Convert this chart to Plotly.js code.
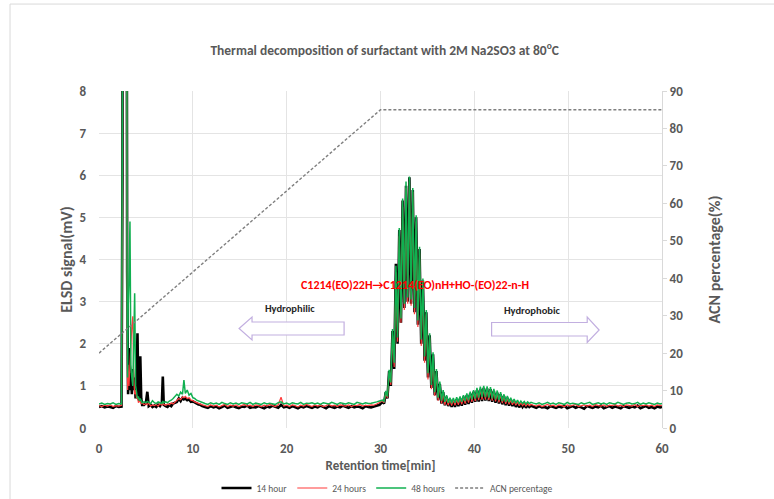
<!DOCTYPE html>
<html>
<head>
<meta charset="utf-8">
<script src="https://cdn.plot.ly/plotly-3.0.1.min.js"></script>
<style>
  html, body { margin: 0; padding: 0; background: #ffffff; }
  #chart { width: 774px; height: 499px; }
</style>
</head>
<body>
<div id="chart"></div>
<script>
// Retention time axis shared by the three ELSD traces (min)
const time = [
  0, 0.3, 0.6, 0.9, 1.2, 1.5, 1.8, 2.1, 2.4,
  2.5, 2.55, 2.7, 2.85, 2.95, 3.0, 3.05, 3.1, 3.2, 3.3,
  3.4, 3.5, 3.6, 3.7, 3.8, 3.9, 4.0, 4.1, 4.2, 4.3,
  4.4, 4.5, 4.6, 4.8, 5.0, 5.15, 5.3, 5.5, 5.7, 5.9,
  6.1, 6.3, 6.5, 6.7, 6.8, 6.9, 7.1, 7.3, 7.5, 7.7,
  7.9, 8.1, 8.3, 8.5, 8.7, 8.9, 9.05, 9.2, 9.4, 9.6,
  9.8, 10.0, 10.2, 10.4, 10.6, 10.8, 11.0,
  11.3, 11.6, 11.9, 12.2, 12.5, 12.8, 13.1, 13.4, 13.7, 14.0,
  14.3, 14.6, 14.9, 15.2, 15.5, 15.8, 16.1, 16.4, 16.7, 17.0,
  17.3, 17.6, 17.9, 18.2, 18.5, 18.8, 19.1, 19.4, 19.7, 20.0,
  20.3, 20.6, 20.9, 21.2, 21.5, 21.8, 22.1, 22.4, 22.7, 23.0,
  23.3, 23.6, 23.9, 24.2, 24.5, 24.8, 25.1, 25.4, 25.7, 26.0,
  26.3, 26.6, 26.9, 27.2, 27.5, 27.8, 28.1, 28.4, 28.7, 29.0,
  29.3, 29.6, 29.9,
  30.2, 30.38, 30.56, 30.74, 30.92, 31.1, 31.28, 31.46, 31.64, 31.82,
  32.0, 32.18, 32.36, 32.54, 32.72, 32.9, 33.08, 33.26, 33.44, 33.62,
  33.8, 33.98, 34.16, 34.34, 34.52, 34.7, 34.88, 35.06, 35.24, 35.42,
  35.6, 35.78, 35.96, 36.14, 36.32, 36.5, 36.68, 36.86, 37.04, 37.22,
  37.4, 37.58, 37.76, 37.94, 38.12, 38.3, 38.48, 38.66, 38.84, 39.02,
  39.2, 39.38, 39.56, 39.74, 39.92, 40.1, 40.28, 40.46, 40.64, 40.82,
  41.0, 41.18, 41.36, 41.54, 41.72, 41.9, 42.08, 42.26, 42.44, 42.62,
  42.8, 42.98, 43.16, 43.34, 43.52, 43.7, 43.88, 44.06, 44.24, 44.42,
  44.6, 44.78, 44.96, 45.14, 45.32, 45.5, 45.68, 45.86, 46.04,
  46.3, 46.6, 46.9, 47.2, 47.5, 47.8, 48.1, 48.4, 48.7, 49.0,
  49.3, 49.6, 49.9, 50.2, 50.5, 50.8, 51.1, 51.4, 51.7, 52.0,
  52.3, 52.6, 52.9, 53.2, 53.5, 53.8, 54.1, 54.4, 54.7, 55.0,
  55.3, 55.6, 55.9, 56.2, 56.5, 56.8, 57.1, 57.4, 57.7, 58.0,
  58.3, 58.6, 58.9, 59.2, 59.5, 59.8, 60.0
];

// ELSD signal (mV) after 14 hours
const h14 = [
  0.50, 0.52, 0.49, 0.51, 0.50, 0.48, 0.52, 0.50, 0.51,
  6.0, 30, 30, 30, 12, 3.7, 1.0, 0.8, 1.9, 0.9,
  1.3, 0.8, 1.4, 0.9, 1.2, 0.7, 1.0, 2.25, 0.7, 0.65,
  1.7, 0.7, 0.55, 0.55, 0.6, 0.86, 0.52, 0.55, 0.5, 0.53,
  0.5, 0.55, 0.52, 0.6, 1.22, 0.55, 0.52, 0.5, 0.55, 0.52,
  0.58, 0.6, 0.62, 0.7, 0.64, 0.72, 0.68, 0.7, 0.66, 0.68,
  0.62, 0.63, 0.6, 0.58, 0.56, 0.55, 0.52,
  0.50, 0.48, 0.52, 0.49, 0.51, 0.47, 0.50, 0.53, 0.48, 0.50,
  0.52, 0.49, 0.47, 0.51, 0.50, 0.53, 0.48, 0.50, 0.49, 0.52,
  0.50, 0.47, 0.51, 0.49, 0.53, 0.50, 0.48, 0.55, 0.49, 0.51,
  0.48, 0.52, 0.50, 0.47, 0.51, 0.49, 0.52, 0.50, 0.48, 0.51,
  0.49, 0.53, 0.50, 0.47, 0.52, 0.50, 0.48, 0.51, 0.49, 0.53,
  0.50, 0.48, 0.52, 0.49, 0.51, 0.50, 0.47, 0.52, 0.50, 0.49,
  0.51, 0.53, 0.55,
  0.62, 0.58, 0.85, 0.70, 1.35, 1.00, 2.30, 1.40, 3.90, 2.00,
  4.70, 2.50, 5.40, 2.85, 5.75, 3.00, 5.95, 2.95, 5.65, 2.75,
  5.00, 2.45, 4.25, 2.00, 3.50, 1.60, 2.75, 1.20, 2.20, 0.95,
  1.75, 0.78, 1.35, 0.66, 1.05, 0.58, 0.85, 0.54, 0.74, 0.52,
  0.68, 0.50, 0.66, 0.50, 0.68, 0.52, 0.70, 0.53, 0.74, 0.55,
  0.78, 0.57, 0.82, 0.60, 0.86, 0.62, 0.90, 0.63, 0.93, 0.64,
  0.95, 0.65, 0.94, 0.64, 0.92, 0.62, 0.88, 0.60, 0.84, 0.58,
  0.80, 0.56, 0.76, 0.54, 0.72, 0.53, 0.68, 0.52, 0.64, 0.50,
  0.61, 0.49, 0.58, 0.50, 0.56, 0.48, 0.55, 0.50, 0.53,
  0.51, 0.48, 0.52, 0.49, 0.50, 0.47, 0.52, 0.50, 0.48, 0.51,
  0.49, 0.53, 0.47, 0.50, 0.52, 0.48, 0.51, 0.49, 0.46, 0.52,
  0.50, 0.48, 0.51, 0.49, 0.53, 0.47, 0.50, 0.52, 0.48, 0.51,
  0.49, 0.47, 0.52, 0.50, 0.48, 0.51, 0.49, 0.53, 0.47, 0.50,
  0.52, 0.48, 0.50, 0.47, 0.51, 0.49, 0.50
];

// ELSD signal (mV) after 24 hours
const h24 = [
  0.53, 0.51, 0.54, 0.52, 0.55, 0.51, 0.53, 0.52, 0.54,
  5.0, 30, 30, 30, 10, 2.0, 0.9, 1.5, 1.0, 1.8,
  2.0, 2.4, 2.65, 1.2, 0.8, 0.9, 0.7, 0.75, 0.6, 0.65,
  0.6, 0.58, 0.6, 0.55, 0.58, 0.55, 0.6, 0.52, 0.55, 0.53,
  0.56, 0.52, 0.58, 0.54, 0.6, 0.56, 0.54, 0.57, 0.55, 0.6,
  0.57, 0.62, 0.66, 0.7, 0.67, 0.74, 0.72, 0.75, 0.7, 0.72,
  0.66, 0.65, 0.62, 0.6, 0.58, 0.56, 0.55,
  0.53, 0.51, 0.55, 0.52, 0.54, 0.50, 0.53, 0.56, 0.51, 0.54,
  0.52, 0.55, 0.51, 0.53, 0.56, 0.52, 0.54, 0.51, 0.55, 0.53,
  0.51, 0.54, 0.52, 0.56, 0.53, 0.51, 0.55, 0.73, 0.52, 0.54,
  0.51, 0.55, 0.53, 0.50, 0.54, 0.52, 0.56, 0.53, 0.51, 0.55,
  0.52, 0.54, 0.51, 0.53, 0.56, 0.52, 0.54, 0.51, 0.55, 0.53,
  0.52, 0.55, 0.51, 0.54, 0.53, 0.56, 0.52, 0.54, 0.53, 0.55,
  0.54, 0.57, 0.60,
  0.64, 0.60, 0.82, 0.72, 1.30, 1.02, 2.20, 1.45, 3.70, 2.05,
  4.55, 2.50, 5.25, 2.80, 5.70, 2.95, 5.85, 2.90, 5.60, 2.70,
  4.90, 2.40, 4.15, 1.95, 3.40, 1.55, 2.70, 1.15, 2.15, 0.92,
  1.70, 0.76, 1.30, 0.65, 1.02, 0.58, 0.84, 0.55, 0.72, 0.54,
  0.68, 0.53, 0.67, 0.54, 0.68, 0.55, 0.70, 0.56, 0.73, 0.58,
  0.77, 0.60, 0.81, 0.62, 0.85, 0.64, 0.89, 0.66, 0.92, 0.67,
  0.94, 0.67, 0.93, 0.66, 0.91, 0.65, 0.87, 0.63, 0.83, 0.61,
  0.79, 0.59, 0.75, 0.57, 0.71, 0.56, 0.67, 0.55, 0.64, 0.54,
  0.62, 0.53, 0.60, 0.53, 0.58, 0.52, 0.57, 0.53, 0.56,
  0.54, 0.52, 0.55, 0.51, 0.53, 0.56, 0.52, 0.54, 0.51, 0.55,
  0.53, 0.51, 0.55, 0.52, 0.54, 0.56, 0.51, 0.53, 0.55, 0.52,
  0.54, 0.51, 0.56, 0.53, 0.52, 0.55, 0.51, 0.54, 0.53, 0.56,
  0.52, 0.54, 0.51, 0.55, 0.53, 0.52, 0.56, 0.51, 0.54, 0.53,
  0.55, 0.52, 0.54, 0.51, 0.55, 0.53, 0.54
];

// ELSD signal (mV) after 48 hours
const h48 = [
  0.57, 0.59, 0.56, 0.58, 0.57, 0.60, 0.56, 0.58, 0.57,
  8.0, 30, 30, 30, 14, 2.5, 1.2, 2.8, 3.5, 4.9,
  1.5, 1.2, 1.0, 2.0, 3.2, 1.0, 0.8, 0.7, 0.75, 0.65,
  0.7, 0.62, 0.6, 0.62, 0.6, 0.63, 0.6, 0.58, 0.65, 0.6,
  0.58, 0.62, 0.6, 0.58, 0.64, 0.6, 0.62, 0.6, 0.64, 0.66,
  0.7, 0.74, 0.8, 0.76, 0.85, 0.8, 1.14, 0.82, 0.9, 0.78,
  0.82, 0.72, 0.7, 0.66, 0.64, 0.62, 0.6,
  0.58, 0.56, 0.60, 0.57, 0.59, 0.56, 0.61, 0.58, 0.56, 0.60,
  0.57, 0.59, 0.56, 0.60, 0.58, 0.57, 0.61, 0.56, 0.59, 0.58,
  0.56, 0.60, 0.57, 0.59, 0.58, 0.56, 0.60, 0.62, 0.57, 0.59,
  0.56, 0.60, 0.58, 0.57, 0.61, 0.56, 0.59, 0.58, 0.60, 0.57,
  0.59, 0.56, 0.60, 0.58, 0.57, 0.61, 0.58, 0.56, 0.60, 0.59,
  0.57, 0.60, 0.58, 0.56, 0.61, 0.59, 0.57, 0.60, 0.58, 0.59,
  0.60, 0.62, 0.64,
  0.66, 0.63, 0.88, 0.75, 1.38, 1.08, 2.35, 1.55, 3.85, 2.15,
  4.75, 2.60, 5.45, 2.95, 5.85, 3.10, 5.97, 3.05, 5.70, 2.85,
  5.05, 2.55, 4.30, 2.10, 3.55, 1.70, 2.80, 1.30, 2.25, 1.02,
  1.80, 0.85, 1.40, 0.72, 1.10, 0.65, 0.90, 0.62, 0.78, 0.60,
  0.72, 0.59, 0.71, 0.60, 0.73, 0.61, 0.75, 0.62, 0.78, 0.64,
  0.82, 0.66, 0.86, 0.68, 0.90, 0.70, 0.95, 0.72, 0.98, 0.73,
  1.00, 0.73, 0.99, 0.72, 0.97, 0.70, 0.93, 0.68, 0.89, 0.66,
  0.85, 0.64, 0.80, 0.62, 0.76, 0.61, 0.72, 0.60, 0.69, 0.59,
  0.66, 0.58, 0.64, 0.58, 0.63, 0.57, 0.62, 0.58, 0.61,
  0.59, 0.57, 0.60, 0.56, 0.58, 0.61, 0.57, 0.59, 0.56, 0.60,
  0.58, 0.56, 0.61, 0.57, 0.59, 0.58, 0.56, 0.60, 0.57, 0.59,
  0.61, 0.56, 0.58, 0.60, 0.57, 0.59, 0.56, 0.60, 0.58, 0.57,
  0.61, 0.58, 0.56, 0.59, 0.60, 0.57, 0.58, 0.61, 0.56, 0.59,
  0.57, 0.60, 0.58, 0.56, 0.59, 0.57, 0.58
];

// Acetonitrile gradient program (right axis, %)
const acnTime = [0, 30, 60];
const acnPct = [20, 85, 85];

const seriesNames = ['14 hour', '24 hours', '48 hours', 'ACN percentage'];

const FONT = 'Carlito, Lato, "Liberation Sans", sans-serif';
const GREY = '#595959';

const traces = [
  { x: time, y: h14, name: seriesNames[0], type: 'scatter', mode: 'lines',
    line: { color: '#000000', width: 2.6 } },
  { x: time, y: h24, name: seriesNames[1], type: 'scatter', mode: 'lines',
    line: { color: '#ff3b3b', width: 1.2 } },
  { x: time, y: h48, name: seriesNames[2], type: 'scatter', mode: 'lines',
    line: { color: '#10b050', width: 1.5 } },
  { x: acnTime, y: acnPct, name: seriesNames[3], type: 'scatter', mode: 'lines',
    yaxis: 'y2', line: { color: '#7f7f7f', width: 1.4, dash: '3px,2px' } }
];

const leftArrow = 'M 14.93,2.362 L 16.31,2.635 L 16.31,2.516 L 26.12,2.516 L 26.12,2.208 L 16.31,2.208 L 16.31,2.089 Z';
const rightArrow = 'M 41.84,2.504 L 52.03,2.504 L 52.03,2.635 L 53.3,2.326 L 52.03,2.03 L 52.03,2.184 L 41.84,2.184 Z';

const layout = {
  width: 774,
  height: 499,
  margin: { l: 99, r: 112, t: 91, b: 71 },
  paper_bgcolor: '#ffffff',
  plot_bgcolor: '#ffffff',
  font: { family: FONT, color: GREY },
  title: {
    text: 'Thermal decomposition of surfactant with 2M Na2SO3 at 80<sup>o</sup>C',
    font: { family: FONT, size: 13.5, color: GREY, weight: 'bold' },
    x: 0.497, xref: 'container', xanchor: 'center',
    y: 0.9, yref: 'container', yanchor: 'middle'
  },
  xaxis: {
    range: [0, 60], dtick: 10, tick0: 0, automargin: false,
    showgrid: true, gridcolor: '#e4e4e4', gridwidth: 1,
    zeroline: false, showline: false,
    ticks: 'outside', ticklen: 8, tickcolor: 'rgba(0,0,0,0)',
    tickfont: { family: FONT, size: 13, color: GREY, weight: 'bold' },
    title: { text: 'Retention time[min]', standoff: 6,
      font: { family: FONT, size: 13, color: GREY, weight: 'bold' } }
  },
  yaxis: {
    range: [0, 8], dtick: 1, tick0: 0, automargin: false,
    showgrid: true, gridcolor: '#e4e4e4', gridwidth: 1,
    zeroline: false, showline: false,
    ticks: '', ticklabelstandoff: 12,
    tickfont: { family: FONT, size: 13, color: GREY, weight: 'bold' },
    title: { text: 'ELSD signal(mV)', standoff: 2,
      font: { family: FONT, size: 16, color: GREY, weight: 'bold' } }
  },
  yaxis2: {
    range: [0, 90], dtick: 10, tick0: 0, automargin: false,
    overlaying: 'y', side: 'right',
    showgrid: false, zeroline: false,
    showline: true, linecolor: '#d9d9d9', linewidth: 1,
    ticks: 'outside', ticklen: 4, tickcolor: '#d9d9d9',
    tickfont: { family: FONT, size: 13, color: GREY, weight: 'bold' },
    title: { text: 'ACN percentage(%)', standoff: 26,
      font: { family: FONT, size: 16, color: GREY, weight: 'bold' } }
  },
  showlegend: true,
  legend: {
    orientation: 'h', x: 0.5, xref: 'container', xanchor: 'center',
    y: 0.022, yref: 'container', yanchor: 'middle',
    font: { family: FONT, size: 9.5, color: GREY },
    itemwidth: 30, traceorder: 'normal', bgcolor: 'rgba(0,0,0,0)'
  },
  annotations: [
    { x: 33.7, y: 3.4, xref: 'x', yref: 'y', showarrow: false,
      text: 'C1214(EO)22H\u2192C1214(EO)nH+HO-(EO)22-n-H',
      font: { family: FONT, size: 12, color: '#ff0000', weight: 'bold' } },
    { x: 20.4, y: 2.83, xref: 'x', yref: 'y', showarrow: false,
      text: 'Hydrophilic',
      font: { family: FONT, size: 10.5, color: '#262626', weight: 'bold' } },
    { x: 46.1, y: 2.8, xref: 'x', yref: 'y', showarrow: false,
      text: 'Hydrophobic',
      font: { family: FONT, size: 10.5, color: '#262626', weight: 'bold' } }
  ],
  shapes: [
    { type: 'path', xref: 'x', yref: 'y', path: leftArrow,
      line: { color: '#c2afe0', width: 1.2 }, fillcolor: 'rgba(255,255,255,0.9)', layer: 'above' },
    { type: 'path', xref: 'x', yref: 'y', path: rightArrow,
      line: { color: '#c2afe0', width: 1.2 }, fillcolor: 'rgba(255,255,255,0.9)', layer: 'above' },
    // thin frame around the chart area
    { type: 'line', xref: 'paper', yref: 'paper', x0: -0.158, x1: 1.2, y0: 1.258, y1: 1.258,
      line: { color: '#d9d9d9', width: 1 } },
    { type: 'line', xref: 'paper', yref: 'paper', x0: -0.158, x1: -0.158, y0: 1.258, y1: -0.22,
      line: { color: '#d9d9d9', width: 1 } }
  ]
};

Plotly.newPlot('chart', traces, layout, { displayModeBar: false, staticPlot: true });
</script>
</body>
</html>
